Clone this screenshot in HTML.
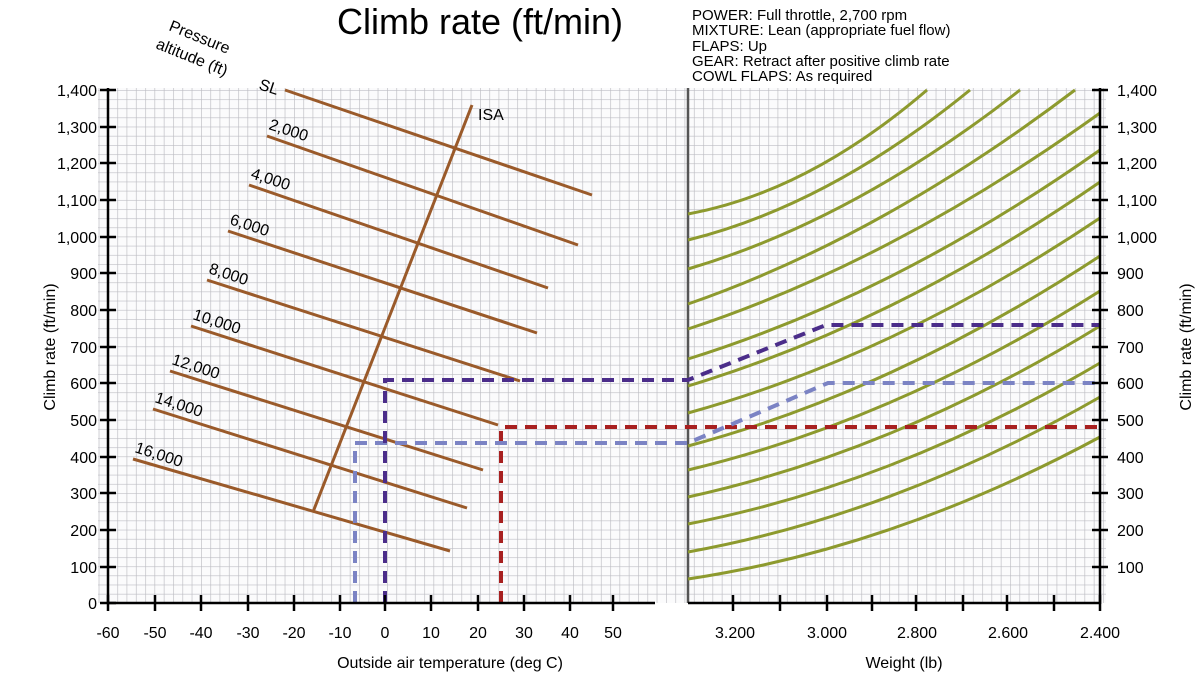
<!DOCTYPE html>
<html><head><meta charset="utf-8"><style>
html,body{margin:0;padding:0;background:#fff;}
svg{display:block;font-family:"Liberation Sans",Arial,sans-serif;}
</style></head><body>
<svg width="1200" height="675" viewBox="0 0 1200 675" xmlns="http://www.w3.org/2000/svg">
<defs>
<pattern id="g" x="108" y="603" width="9.3" height="9.16" patternUnits="userSpaceOnUse">
<path d="M0 0V9.16M0 0H9.3" stroke="#bcbcc2" stroke-width="1.3" fill="none"/>
</pattern>
</defs>
<rect x="0" y="0" width="1200" height="675" fill="#fff"/>
<rect x="98" y="88" width="1008" height="515" fill="#fbfbfc"/>
<rect x="98" y="88" width="1008" height="515" fill="url(#g)"/>
<line x1="688" y1="88" x2="688" y2="603" stroke="#555" stroke-width="2.5"/>
<g stroke="#8d9a2e" stroke-width="3" fill="none">
<path d="M688 214 Q808 192 927 90"/>
<path d="M688 240 Q829 205 970 90"/>
<path d="M688 269 Q854 220 1020 90"/>
<path d="M688 304 Q881 237 1075 90"/>
<path d="M688 329 Q894 261 1100 113"/>
<path d="M688 359 Q894 295 1100 150"/>
<path d="M688 386 Q894 324 1100 182"/>
<path d="M688 413 Q894 356 1100 218"/>
<path d="M688 446 Q894 391 1100 256"/>
<path d="M688 470 Q894 421 1100 291"/>
<path d="M688 497 Q894 452 1100 326"/>
<path d="M688 524 Q894 484 1100 363"/>
<path d="M688 552 Q894 515 1100 397"/>
<path d="M688 579 Q894 548 1100 437"/>
</g>
<g stroke="#9a5a2a" stroke-width="3" fill="none">
<line x1="285" y1="90" x2="592" y2="195"/>
<line x1="267" y1="136" x2="578" y2="245"/>
<line x1="249" y1="185" x2="548" y2="288"/>
<line x1="228" y1="231" x2="537" y2="333"/>
<line x1="207" y1="280" x2="520" y2="381"/>
<line x1="191" y1="326" x2="498" y2="425"/>
<line x1="170" y1="371" x2="483" y2="470"/>
<line x1="153" y1="409" x2="467" y2="508"/>
<line x1="133" y1="459" x2="450" y2="551"/>
<line x1="313" y1="512" x2="472" y2="105"/>
</g>
<g font-size="16" fill="#000">
<text transform="translate(258,89) rotate(18)">SL</text>
<text transform="translate(268,129) rotate(18)">2,000</text>
<text transform="translate(250,178) rotate(18)">4,000</text>
<text transform="translate(229,224) rotate(18)">6,000</text>
<text transform="translate(208,273) rotate(18)">8,000</text>
<text transform="translate(192,319) rotate(18)">10,000</text>
<text transform="translate(171,364) rotate(18)">12,000</text>
<text transform="translate(154,402) rotate(18)">14,000</text>
<text transform="translate(134,452) rotate(18)">16,000</text>
<text x="478" y="120">ISA</text>
<text transform="translate(168,30) rotate(22)">Pressure</text>
<text transform="translate(155,48) rotate(22)">altitude (ft)</text>
</g>
<g fill="none" stroke-width="4" stroke-dasharray="12,8">
<path d="M501 603V427H1100" stroke="#a82020"/>
<path d="M355 603V443H688L828 383H1100" stroke="#7b83c4"/>
<path d="M385 603V380H688L826 325H1100" stroke="#4b2d8a"/>
</g>
<g stroke="#000" stroke-width="2.5" fill="none">
<line x1="108" y1="88" x2="108" y2="604"/>
<line x1="1100" y1="88" x2="1100" y2="604"/>
<line x1="107" y1="603" x2="655" y2="603"/>
<line x1="688" y1="603" x2="1101" y2="603"/>
</g>
<g stroke="#000" stroke-width="2.5">
<path d="M100 90H116M100 127H116M100 163H116M100 200H116M100 237H116M100 273H116M100 310H116M100 347H116M100 383H116M100 420H116M100 457H116M100 493H116M100 530H116M100 567H116M100 603H116"/>
<path d="M1092 90H1108M1092 127H1108M1092 163H1108M1092 200H1108M1092 237H1108M1092 273H1108M1092 310H1108M1092 347H1108M1092 383H1108M1092 420H1108M1092 457H1108M1092 493H1108M1092 530H1108M1092 567H1108"/>
<path d="M108 595V611M155 595V611M201 595V611M248 595V611M294 595V611M340 595V611M385 595V611M431 595V611M478 595V611M524 595V611M570 595V611M613 595V611"/>
<path d="M733 595V611M780 595V611M827 595V611M872 595V611M916 595V611M963 595V611M1007 595V611M1054 595V611M1100 595V611"/>
</g>
<g font-size="16" fill="#000" text-anchor="end">
<text x="97" y="96">1,400</text><text x="97" y="133">1,300</text><text x="97" y="169">1,200</text>
<text x="97" y="206">1,100</text><text x="97" y="243">1,000</text><text x="97" y="279">900</text>
<text x="97" y="316">800</text><text x="97" y="353">700</text><text x="97" y="389">600</text>
<text x="97" y="426">500</text><text x="97" y="463">400</text><text x="97" y="499">300</text>
<text x="97" y="536">200</text><text x="97" y="573">100</text><text x="97" y="609">0</text>
</g>
<g font-size="16" fill="#000" text-anchor="start">
<text x="1117" y="96">1,400</text><text x="1117" y="133">1,300</text><text x="1117" y="169">1,200</text>
<text x="1117" y="206">1,100</text><text x="1117" y="243">1,000</text><text x="1117" y="279">900</text>
<text x="1117" y="316">800</text><text x="1117" y="353">700</text><text x="1117" y="389">600</text>
<text x="1117" y="426">500</text><text x="1117" y="463">400</text><text x="1117" y="499">300</text>
<text x="1117" y="536">200</text><text x="1117" y="573">100</text>
</g>
<g font-size="16" fill="#000" text-anchor="middle">
<text x="108" y="638">-60</text><text x="155" y="638">-50</text><text x="201" y="638">-40</text>
<text x="248" y="638">-30</text><text x="294" y="638">-20</text><text x="340" y="638">-10</text>
<text x="385" y="638">0</text><text x="431" y="638">10</text><text x="478" y="638">20</text>
<text x="524" y="638">30</text><text x="570" y="638">40</text><text x="613" y="638">50</text>
<text x="735" y="638">3.200</text><text x="827" y="638">3.000</text><text x="917" y="638">2.800</text>
<text x="1008" y="638">2.600</text><text x="1100" y="638">2.400</text>
<text x="450" y="668">Outside air temperature (deg C)</text>
<text x="904" y="668">Weight (lb)</text>
<text transform="translate(55,347) rotate(-90)">Climb rate (ft/min)</text>
<text transform="translate(1191,347) rotate(-90)">Climb rate (ft/min)</text>
</g>
<text x="480" y="34" font-size="36" text-anchor="middle" fill="#000">Climb rate (ft/min)</text>
<g font-size="15" fill="#000">
<text x="692" y="20">POWER:  Full throttle, 2,700 rpm</text>
<text x="692" y="35">MIXTURE:  Lean (appropriate fuel flow)</text>
<text x="692" y="51">FLAPS:  Up</text>
<text x="692" y="66">GEAR:  Retract after positive climb rate</text>
<text x="692" y="81">COWL FLAPS:  As required</text>
</g>
</svg>
</body></html>
